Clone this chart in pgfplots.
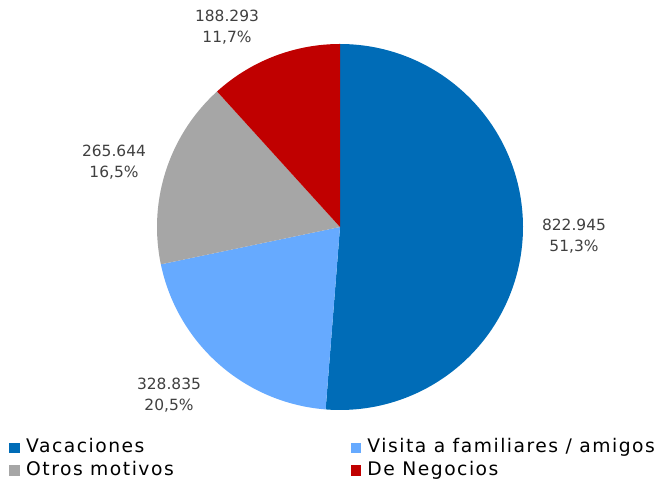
\documentclass[border=0pt]{standalone}
\usepackage{pgfplots}
\pgfplotsset{compat=1.18}
\usepackage{fontspec}
\setmainfont{DejaVu Sans}
\newfontfamily\legfont[LetterSpace=8]{DejaVu Sans}

\definecolor{cVac}{RGB}{0,108,183}
\definecolor{cVis}{RGB}{102,170,255}
\definecolor{cOtr}{RGB}{166,166,166}
\definecolor{cNeg}{RGB}{192,0,0}
\definecolor{lbl}{RGB}{64,64,64}

% values in thousands of travellers
\def\vVac{822.945}
\def\vVis{328.835}
\def\vOtr{265.644}
\def\vNeg{188.293}

\begin{document}
\begin{tikzpicture}
\pgfmathsetmacro{\tot}{\vVac+\vVis+\vOtr+\vNeg}
\pgfmathsetmacro{\aA}{90-360*(\vVac/\tot)}
\pgfmathsetmacro{\aB}{\aA-360*(\vVis/\tot)}
\pgfmathsetmacro{\aC}{\aB-360*(\vOtr/\tot)}
\def\cx{340}\def\cy{256}\def\r{183}
\begin{axis}[
    scale only axis,
    width=659bp, height=483bp,
    xmin=0, xmax=659, ymin=0, ymax=483,
    hide axis,
    clip=false,
    legend columns=2,
    legend cell align=left,
    legend image code/.code={\fill[#1] (0bp,-0.3bp) rectangle (10.7bp,10.4bp);},
    legend style={
        at={(axis cs:9.3,45.5)}, anchor=north west,
        draw=none, fill=none, inner sep=0pt,
        font=\legfont\fontsize{18.8}{22}\selectfont,
        row sep=5bp,
        nodes={inner xsep=6bp, inner ysep=1bp, anchor=base west},
        /tikz/every even column/.append style={column sep=171bp},
    },
]
\path (axis cs:0,0) rectangle (axis cs:659,483);
\addplot[fill=cVac, draw=none, domain=\aA:90, samples=120, variable=\t]
    ({\cx+\r*cos(\t)},{\cy+\r*sin(\t)}) -- (axis cs:\cx,\cy) -- cycle;
\addlegendentry{Vacaciones}
\addplot[fill=cVis, draw=none, domain=\aB:\aA, samples=60, variable=\t]
    ({\cx+\r*cos(\t)},{\cy+\r*sin(\t)}) -- (axis cs:\cx,\cy) -- cycle;
\addlegendentry{Visita a familiares / amigos}
\addplot[fill=cOtr, draw=none, domain=\aC:\aB, samples=60, variable=\t]
    ({\cx+\r*cos(\t)},{\cy+\r*sin(\t)}) -- (axis cs:\cx,\cy) -- cycle;
\addlegendentry{Otros motivos}
\addplot[fill=cNeg, draw=none, domain=-270:\aC, samples=60, variable=\t]
    ({\cx+\r*cos(\t)},{\cy+\r*sin(\t)}) -- (axis cs:\cx,\cy) -- cycle;
\addlegendentry{De Negocios}

\begin{scope}[every node/.style={align=center, text=lbl, inner sep=0pt,
    font=\fontsize{15.5}{21}\selectfont}]
\node at (axis cs:574,247) {822.945\\51,3\%};
\node at (axis cs:169,88) {328.835\\20,5\%};
\node at (axis cs:114,321) {265.644\\16,5\%};
\node at (axis cs:227,456) {188.293\\11,7\%};
\end{scope}
\end{axis}
\pgfresetboundingbox
\path[use as bounding box] (current axis.south west) rectangle (current axis.north east);
\end{tikzpicture}
\end{document}
